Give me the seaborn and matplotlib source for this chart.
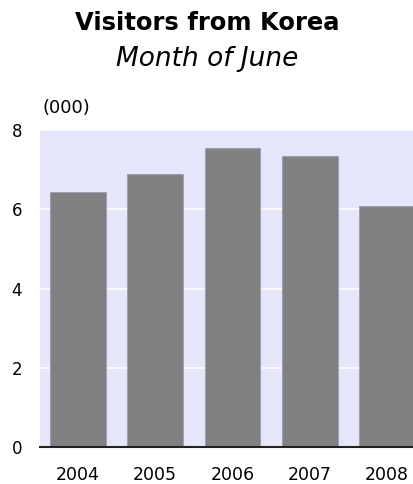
import matplotlib
matplotlib.use('Agg')
import matplotlib.pyplot as plt
import seaborn as sns
import pandas as pd

years = ['2004', '2005', '2006', '2007', '2008']
visitors = [6.44, 6.89, 7.55, 7.35, 6.09]
yticks = [0, 2, 4, 6, 8]

sns.set_style('white')
plt.rcParams['font.family'] = ['DejaVu Sans']
plt.rcParams['text.color'] = 'black'

df = pd.DataFrame({'Year': years, 'Visitors': visitors})

fig = plt.figure(figsize=(4.14, 4.84), dpi=100)
ax = fig.add_axes([40 / 414, 37 / 484, 374 / 414, 317 / 484])
ax.set_facecolor('#e6e6fa')

sns.barplot(data=df, x='Year', y='Visitors', color='#808080', saturation=1,
            width=0.72, edgecolor='#a0a0b4', linewidth=0.8, ax=ax, zorder=3)

ax.set_ylim(0, 8)
ax.set_xlim(-0.49, 4.35)
ax.set_yticks(yticks)
ax.yaxis.grid(True, color='white', linewidth=1.2, zorder=0)
ax.set_axisbelow(True)
for s in ['top', 'right', 'left']:
    ax.spines[s].set_visible(False)
ax.spines['bottom'].set_color('#222222')
ax.spines['bottom'].set_linewidth(1.5)
ax.spines['bottom'].set_zorder(5)
ax.tick_params(length=0, colors='black')
ax.tick_params(axis='x', labelsize=12.5, pad=14)
ax.tick_params(axis='y', labelsize=12, pad=13)
ax.set_xlabel('')
ax.set_ylabel('')

fig.text(0.5, 1 - 23 / 484, 'Visitors from Korea', ha='center', va='center',
         fontsize=17.5, fontweight='bold')
fig.text(0.5, 1 - 59 / 484, 'Month of June', ha='center', va='center',
         fontsize=19, style='italic')
fig.text(42 / 414, 1 - 108 / 484, '(000)', ha='left', va='center', fontsize=13)

fig.savefig('out.png', dpi=100)
